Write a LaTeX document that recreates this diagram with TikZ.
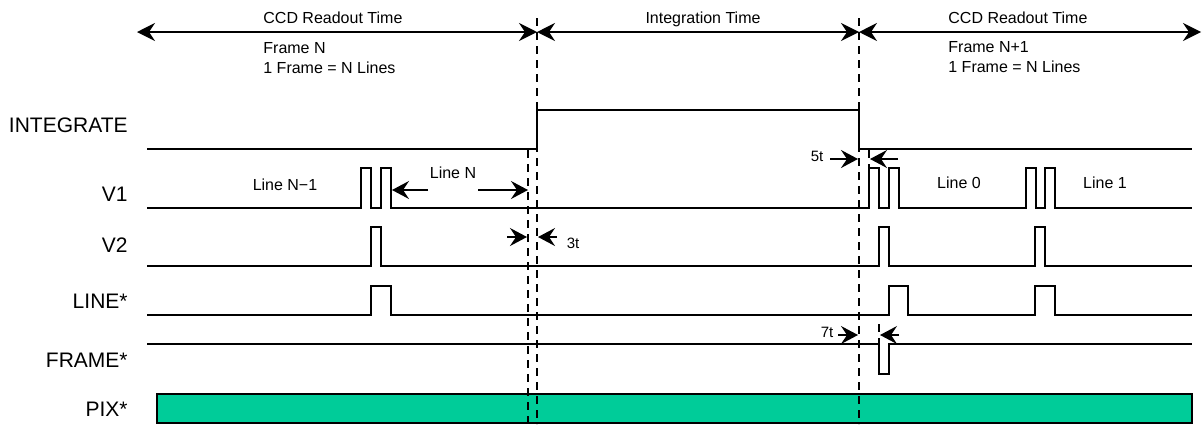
\documentclass[tikz,border=0pt]{standalone}
\usepackage{fontspec}
\setmainfont{Liberation Sans}
\usetikzlibrary{arrows.meta}
\definecolor{pixgreen}{RGB}{0,204,153}
\tikzset{sig/.style={black, line width=0.8pt, line join=miter},
  guide/.style={black, line width=0.7pt, dash pattern=on 4pt off 3pt},
  span/.style={black, line width=0.9pt, {Stealth[length=9pt,width=9pt,inset=3pt]}-{Stealth[length=9pt,width=9pt,inset=3pt]}},
  dim/.style={black, line width=0.8pt, -{Stealth[length=8.5pt,width=9pt,inset=3pt]}},
  lbl/.style={anchor=base east, inner sep=0pt, font=\fontsize{10.5}{12}\selectfont},
  note/.style={inner sep=0pt, font=\fontsize{8}{10}\selectfont},
  tick/.style={inner sep=0pt, font=\fontsize{7.5}{9}\selectfont}}

\begin{document}
\begin{tikzpicture}[x=0.5pt, y=-0.5pt]
  \useasboundingbox (0,0) rectangle (1203,424);
  % time spans
  \coordinate (roL) at (137,32);
  \coordinate (itL) at (537,32);
  \coordinate (itR) at (859,32);
  \coordinate (roR) at (1201,32);
  \draw[span] (roL) -- (itL);
  \draw[span] (itL) -- (itR);
  \draw[span] (itR) -- (roR);
  \node[note, anchor=base west] (ccdL) at (263,23) {CCD Readout Time};
  \node[note, anchor=base west] (frmL) at (263,53) {Frame N};
  \node[note, anchor=base west] (linL) at (263,73) {1 Frame = N Lines};
  \node[note, anchor=base] (intT) at (703,23) {Integration Time};
  \node[note, anchor=base west] (ccdR) at (948,23) {CCD Readout Time};
  \node[note, anchor=base west] (frmR) at (948,52) {Frame N+1};
  \node[note, anchor=base west] (linR) at (948,72) {1 Frame = N Lines};
  % signal names
  \node[lbl] (integ) at (128,132) {INTEGRATE};
  \node[lbl] (vone) at (128,201) {V1};
  \node[lbl] (vtwo) at (128,252) {V2};
  \node[lbl] (line) at (128,308) {LINE*};
  \node[lbl] (frame) at (128,367) {FRAME*};
  \node[lbl] (pix) at (128,416) {PIX*};
  % waveforms
  \draw[sig] (147,149) -- (537,149) |- (859,110) |- (1192,149);
  \draw[sig] (147,208) -- (361,208) |- (371,168) |- (381,208) |- (391,168) -- (391,208)
    -- (869,208) |- (879,168) |- (889,208) |- (899,168) -- (899,208)
    -- (1026,208) |- (1036,168) |- (1045,208) |- (1055,168) -- (1055,208) -- (1192,208);
  \draw[sig] (147,266) -- (371,266) |- (381,227) -- (381,266)
    -- (879,266) |- (889,227) -- (889,266)
    -- (1035,266) |- (1045,227) -- (1045,266) -- (1192,266);
  \draw[sig] (147,315) -- (371,315) |- (391,286) -- (391,315)
    -- (889,315) |- (908,286) -- (908,315)
    -- (1035,315) |- (1055,286) -- (1055,315) -- (1192,315);
  \draw[sig] (147,344) -- (879,344) |- (889,374) -- (889,344) -- (1192,344);
  \draw[sig, fill=pixgreen] (157,394) rectangle (1192,423);
  % line labels
  \node[note, anchor=base] (lnA) at (285,190) {Line N−1};
  \node[note, anchor=base] (lnB) at (453,178) {Line N};
  \node[note, anchor=base] (lnC) at (959,188) {Line 0};
  \node[note, anchor=base] (lnD) at (1105,188) {Line 1};
  \draw[dim] (428,190) -- (392,190);
  \draw[dim] (478,190) -- (528,190);
  % guides
  \draw[guide] (537,18) -- (537,424);
  \draw[guide] (528,150) -- (528,424);
  \draw[guide] (859,18) -- (859,424);
  \draw[guide] (869,150) -- (869,168);
  \draw[guide] (879,324) -- (879,344);
  % delays
  \draw[dim] (507,237) -- (527,237);
  \draw[dim] (557,237) -- (538,237);
  \node[tick, anchor=base] (dThree) at (573,248) {3t};
  \draw[dim] (830,159) -- (858,159);
  \draw[dim] (898,159) -- (870,159);
  \node[tick, anchor=base] (dFive) at (817,161) {5t};
  \draw[dim] (838,335) -- (858,335);
  \draw[dim] (899,335) -- (880,335);
  \node[tick, anchor=base] (dSeven) at (827,337) {7t};
\end{tikzpicture}
\end{document}
